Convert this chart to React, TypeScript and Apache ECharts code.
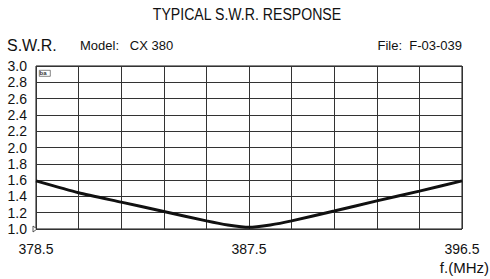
import React, { useEffect, useRef } from "react";
import * as echarts from "echarts";

const FREQ_MIN = 378.5;
const FREQ_STEP = 1.8;
const freqs = [378.5, 380.3, 382.1, 383.9, 385.7, 386.6, 387.5, 388.4, 389.3, 391.1, 392.9, 394.7, 396.5];
const swr = [1.59, 1.445, 1.33, 1.215, 1.1, 1.05, 1.02, 1.05, 1.1, 1.22, 1.345, 1.465, 1.59];
const xTickLabels = ["378.5", "387.5", "396.5"];
const yTicks = [1.0, 1.2, 1.4, 1.6, 1.8, 2.0, 2.2, 2.4, 2.6, 2.8, 3.0];

const FONT = "'Liberation Sans', Arial, sans-serif";

export default function App() {
  const ref = useRef<HTMLDivElement>(null);
  useEffect(() => {
    if (!ref.current) return;
    const chart = echarts.init(ref.current, null, { renderer: "svg" });
    const data = freqs.map((f, i) => [(f - FREQ_MIN) / FREQ_STEP, swr[i]]);
    chart.setOption({
      animation: false,
      backgroundColor: "#ffffff",
      grid: {
        left: 36,
        right: 28,
        top: 66,
        bottom: 50,
        show: true,
        borderColor: "#111",
        borderWidth: 1,
      },
      xAxis: {
        type: "value",
        min: 0,
        max: 10,
        interval: 1,
        axisLine: { show: false },
        axisTick: { show: false },
        splitLine: { show: true, lineStyle: { color: "#333", width: 1 } },
        axisLabel: {
          margin: 13,
          fontFamily: FONT,
          fontSize: 14,
          color: "#111",
          formatter: (v: number) => {
            if (Math.abs(v) < 1e-6) return xTickLabels[0];
            if (Math.abs(v - 5) < 1e-6) return xTickLabels[1];
            if (Math.abs(v - 10) < 1e-6) return xTickLabels[2];
            return "";
          },
        },
      },
      yAxis: {
        type: "value",
        min: yTicks[0],
        max: yTicks[yTicks.length - 1],
        interval: 0.2,
        axisLine: { show: false },
        axisTick: { show: false },
        splitLine: { show: true, lineStyle: { color: "#333", width: 1 } },
        axisLabel: {
          margin: 9,
          fontFamily: FONT,
          fontSize: 14,
          color: "#111",
          formatter: (v: number) => v.toFixed(1),
        },
      },
      graphic: [
        {
          type: "text",
          x: 247,
          y: 14,
          scaleX: 0.83,
          style: {
            text: "TYPICAL S.W.R. RESPONSE",
            fontFamily: FONT,
            fontSize: 17,
            fill: "#111",
            align: "center",
            verticalAlign: "middle",
          },
        },
        { type: "text", left: 7, top: 37, style: { text: "S.W.R.", fontFamily: FONT, fontSize: 16, fill: "#111" } },
        { type: "text", left: 80, top: 39, style: { text: "Model:   CX 380", fontFamily: FONT, fontSize: 13, fill: "#111" } },
        { type: "text", right: 28, top: 39, style: { text: "File:  F-03-039", fontFamily: FONT, fontSize: 13, fill: "#111" } },
        { type: "text", right: 1, top: 260, style: { text: "f.(MHz)", fontFamily: FONT, fontSize: 15, fill: "#111" } },
        { type: "rect", left: 39, top: 70, shape: { width: 11, height: 6 }, style: { fill: "#fff", stroke: "#333", lineWidth: 0.6 } },
        { type: "text", left: 39.5, top: 70, style: { text: "ba", fontFamily: FONT, fontSize: 6, fontWeight: "bold", fill: "#333" } },
        { type: "polygon", shape: { points: [[33, 226], [33, 232], [37, 229]] }, style: { fill: "#fff", stroke: "#333", lineWidth: 0.8 } },
      ],
      series: [
        {
          type: "line",
          data,
          showSymbol: false,
          smooth: 0.2,
          lineStyle: { color: "#111", width: 3 },
        },
      ],
    });
    return () => chart.dispose();
  }, []);
  return <div ref={ref} style={{ width: 490, height: 279, position: "absolute", left: 0, top: 0 }} />;
}
